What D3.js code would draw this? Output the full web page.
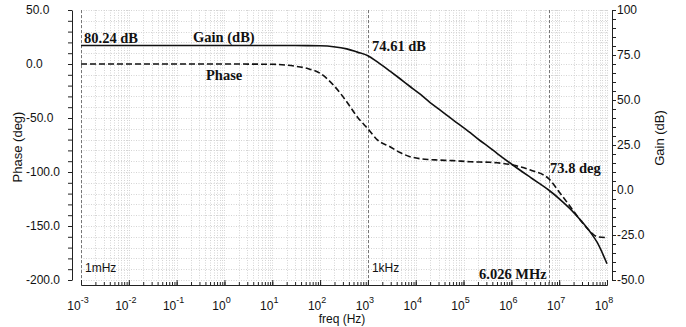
<!DOCTYPE html>
<html>
<head>
<meta charset="utf-8">
<script src="https://cdn.jsdelivr.net/npm/d3@7"></script>
<style>
  body { margin: 0; background: #fff; }
  svg { display: block; }
</style>
</head>
<body>
<svg id="chart" width="686" height="327"></svg>
<script>
// Bode plot data
const freq = [1e-3, 1e-2, 1e-1, 1, 10, 30, 55, 100, 190, 360, 600, 1e3, 1.6e3, 2.9e3, 4.7e3,
  7.6e3, 1.2e4, 2e4, 2.8e4, 6e4, 1.4e5, 2.2e5, 3.5e5, 5e5, 1.07e6, 2.5e6, 6.026e6,
  1.05e7, 1.7e7, 2.75e7, 4.5e7, 6.2e7, 1e8];
const gainDb = [80.24, 80.24, 80.24, 80.24, 80.24, 80.24, 80.22, 80.1, 79.6, 78.4, 76.6, 74.61, 71.0, 66.0, 61.8,
  57.5, 53.5, 48.6, 45.6, 39.0, 31.7, 27.5, 23.6, 20.4, 13.9, 7.0, 0,
  -5.3, -10.5, -16.5, -23.5, -29, -41];
const phaseDeg = [0, 0, 0, 0, -0.3, -2.0, -4.2, -8.6, -19.5, -34.9, -49, -60, -70.5, -76.6, -82,
  -85.8, -87.6, -88.5, -88.9, -89.5, -90.5, -90.8, -91, -91.5, -93.5, -98.2, -106.2,
  -119.7, -132, -144.4, -155.3, -159.9, -160.8];

// ticks
const decadeExp = [-3, -2, -1, 0, 1, 2, 3, 4, 5, 6, 7, 8];
const phaseTicks = [50, 0, -50, -100, -150, -200];
const gainTicks = [100, 75, 50, 25, 0, -25, -50];

// markers and annotations
const markerFreq = [1e-3, 1e3, 6.026e6];
const markerText = ["1mHz", "1kHz"];
const notes = [
  { text: "80.24 dB", x: 84, y: 43 },
  { text: "Gain (dB)", x: 193, y: 42 },
  { text: "Phase", x: 206, y: 80 },
  { text: "74.61 dB", x: 372, y: 51 },
  { text: "73.8 deg", x: 550, y: 173 },
  { text: "6.026 MHz", x: 479, y: 279 }
];

const svg = d3.select("#chart");
const x = d3.scaleLog().domain([1e-3, 1e8]).range([81, 607]);
const yPhase = d3.scaleLinear().domain([-200, 50]).range([280, 10]);
const yGain = d3.scaleLinear().domain([-50, 100]).range([280, 10]);

// minor values
const minorFreq = [];
decadeExp.forEach(e => {
  for (let m = 1; m < 10; m++) {
    const v = m * Math.pow(10, e);
    if (v <= 1e8) minorFreq.push(v);
  }
});
const phaseMinor = d3.range(-200, 51, 10);
const gainMinor = d3.range(-50, 101, 5);

// grid
const grid = svg.append("g").attr("stroke", "#d4d4d4").attr("stroke-width", 1).attr("stroke-dasharray", "1,1.5");
grid.selectAll(".v").data(minorFreq).join("line")
  .attr("x1", d => Math.round(x(d)) + 0.5).attr("x2", d => Math.round(x(d)) + 0.5)
  .attr("y1", 10).attr("y2", 280);
grid.selectAll(".h").data(phaseMinor).join("line")
  .attr("x1", 81).attr("x2", 607)
  .attr("y1", d => Math.round(yPhase(d)) + 0.5).attr("y2", d => Math.round(yPhase(d)) + 0.5);

// marker lines
svg.append("g").selectAll("line").data(markerFreq).join("line")
  .attr("x1", d => Math.round(x(d)) + 0.5).attr("x2", d => Math.round(x(d)) + 0.5)
  .attr("y1", 10).attr("y2", 285)
  .attr("stroke", "#777").attr("stroke-dasharray", "3,2");

// axes
const axisStyle = g => {
  g.select(".domain").attr("stroke", "#222");
  g.selectAll(".tick line").attr("stroke", "#222");
  g.selectAll("text").remove();
};
svg.append("g").attr("transform", "translate(72,0)")
  .call(d3.axisLeft(yPhase).tickValues(phaseMinor).tickSize(4).tickSizeOuter(0)).call(axisStyle);
svg.append("g").attr("transform", "translate(612,0)")
  .call(d3.axisRight(yGain).tickValues(gainMinor).tickSize(4).tickSizeOuter(0)).call(axisStyle);
svg.append("g").attr("transform", "translate(0,285)")
  .call(d3.axisTop(x).tickValues(minorFreq).tickSize(3).tickSizeOuter(0)).call(axisStyle);
svg.append("g").attr("transform", "translate(0,285)")
  .call(d3.axisTop(x).tickValues(decadeExp.map(e => Math.pow(10, e))).tickSize(5).tickSizeOuter(0)).call(axisStyle);

// tick labels
const sans = "'Liberation Sans', Arial, sans-serif";
svg.append("g").selectAll("text").data(phaseTicks).join("text")
  .attr("x", 26).attr("y", d => yPhase(d) + 4)
  .attr("font-family", sans).attr("font-size", 12).attr("fill", "#111")
  .text(d => d.toFixed(1));
svg.append("g").selectAll("text").data(gainTicks).join("text")
  .attr("x", 617).attr("y", d => yGain(d) + 4)
  .attr("font-family", sans).attr("font-size", 12).attr("fill", "#111")
  .text(d => d === 100 ? "100" : d.toFixed(1));
const xl = svg.append("g").selectAll("text").data(decadeExp).join("text")
  .attr("x", d => x(Math.pow(10, d)) - 3).attr("y", 310)
  .attr("text-anchor", "middle")
  .attr("font-family", sans).attr("font-size", 12).attr("fill", "#111");
xl.append("tspan").text("10");
xl.append("tspan").attr("dy", -7).attr("font-size", 9).text(d => d);

// axis titles
svg.append("text").attr("transform", "translate(22,147) rotate(-90)")
  .attr("text-anchor", "middle").attr("font-family", sans).attr("font-size", 13).attr("fill", "#111")
  .text("Phase (deg)");
svg.append("text").attr("transform", "translate(664,138) rotate(-90)")
  .attr("text-anchor", "middle").attr("font-family", sans).attr("font-size", 13).attr("fill", "#111")
  .text("Gain (dB)");
svg.append("text").attr("x", 342).attr("y", 323)
  .attr("text-anchor", "middle").attr("font-family", sans).attr("font-size", 12).attr("fill", "#111")
  .text("freq (Hz)");

// curves
const pts = freq.map((f, i) => ({ f, g: gainDb[i], p: phaseDeg[i] }));
svg.append("path").datum(pts)
  .attr("fill", "none").attr("stroke", "#111").attr("stroke-width", 1.6)
  .attr("d", d3.line().x(d => x(d.f)).y(d => yGain(d.g)).curve(d3.curveMonotoneX));
svg.append("path").datum(pts)
  .attr("fill", "none").attr("stroke", "#111").attr("stroke-width", 1.6).attr("stroke-dasharray", "6,3")
  .attr("d", d3.line().x(d => x(d.f)).y(d => yPhase(d.p)).curve(d3.curveMonotoneX));

// marker labels
svg.append("g").selectAll("text").data(markerText).join("text")
  .attr("x", (d, i) => x(markerFreq[i]) + 4).attr("y", 272)
  .attr("font-family", sans).attr("font-size", 12).attr("fill", "#111")
  .text(d => d);

// annotations
svg.append("g").selectAll("text").data(notes).join("text")
  .attr("x", d => d.x).attr("y", d => d.y)
  .attr("font-family", "'Liberation Serif', 'Times New Roman', serif")
  .attr("font-weight", "bold").attr("font-size", 14.5).attr("fill", "#111")
  .text(d => d.text);
</script>
</body>
</html>
